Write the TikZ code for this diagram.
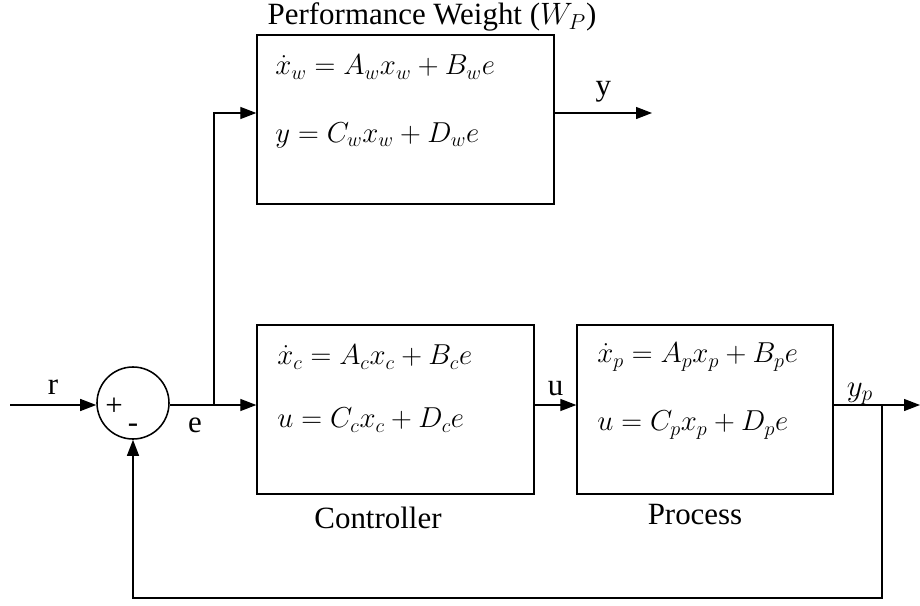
\RequirePackage{fix-cm}
\documentclass[tikz,border=0pt]{standalone}
\usepackage{fontspec}
\setmainfont{Liberation Serif}
\usepackage{amsmath}
\usepackage{tikz}
\usetikzlibrary{arrows.meta, positioning, calc}

\tikzset{
  blk/.style={draw, line width=0.9pt, rectangle, minimum height=4.225cm, inner sep=0pt},
  sumnode/.style={draw, line width=1.1pt, circle, minimum size=1.8cm, inner sep=0pt},
  sig/.style={line width=0.9pt, -{Triangle[length=0.4cm, width=0.3cm]}},
  eqn/.style={anchor=west, inner sep=0pt, font=\fontsize{20.5}{24}\selectfont},
  lbl/.style={inner sep=0pt}
}

\begin{document}
\begin{tikzpicture}[x=0.025cm, y=-0.025cm, font=\fontsize{22}{26}\selectfont]
        \useasboundingbox (0,0) rectangle (920,605);
        % blocks
        \node[blk, minimum width=7.425cm] (wt) at (405.5,119.5) {};
        \node[blk, minimum width=6.925cm] (ctrl) at (395.5,409.5) {};
        \node[blk, minimum width=6.4cm] (proc) at (705,409.5) {};
        \node[sumnode] (sum) at (133,403) {};
        % block titles
        \node[lbl] (wttitle) at (432,17) {Performance Weight ($W_P$)};
        \node[lbl] (ctrltitle) at (378,518) {Controller};
        \node[lbl] (proctitle) at (695,515) {Process};
        % state-space equations
        \node[eqn] (wteqa) at (275,67) {$\dot{x}_w = A_w x_w + B_w e$};
        \node[eqn] (wteqb) at (275,135) {$y = C_w x_w + D_w e$};
        \node[eqn] (ctrleqa) at (277,357) {$\dot{x}_c = A_c x_c + B_c e$};
        \node[eqn] (ctrleqb) at (277,420) {$u = C_c x_c + D_c e$};
        \node[eqn] (proceqa) at (597,357) {$\dot{x}_p = A_p x_p + B_p e$};
        \node[eqn] (proceqb) at (597,425) {$u = C_p x_p + D_p e$};
        % signs in the summing junction
        \node[lbl] (plus) at (114,407) {+};
        \node[lbl] (minus) at (133,428) {-};
        % free ends and branch points
        \coordinate (rin) at (10,405);
        \coordinate (split) at (214,405);
        \coordinate (tap) at (882,405);
        \coordinate (yout) at (652,113);
        \coordinate (ypout) at (920,405);
        \coordinate (fbcorner) at (882,598);
        % signals
        \draw[sig] (rin) -- (rin -| sum.west) node[lbl, midway, above=7pt] (rlbl) {r};
        \draw[sig] (sum.east |- rin) -- (ctrl.west |- rin);
        \node[lbl] (elbl) at (195,425) {e};
        \draw[sig] (split) |- (wt.west |- yout);
        \draw[sig] (wt.east |- yout) -- (yout) node[lbl, midway, above=7pt] (ylbl) {y};
        \draw[sig] (ctrl.east |- rin) -- (proc.west |- rin) node[lbl, midway, above=6pt] (ulbl) {u};
        \draw[sig] (proc.east |- rin) -- (ypout);
        \node[lbl] (yplbl) at (860,394) {$y_p$};
        % feedback
        \draw[sig] (tap) -- (fbcorner) -| (sum.south);
      \end{tikzpicture}
\end{document}
